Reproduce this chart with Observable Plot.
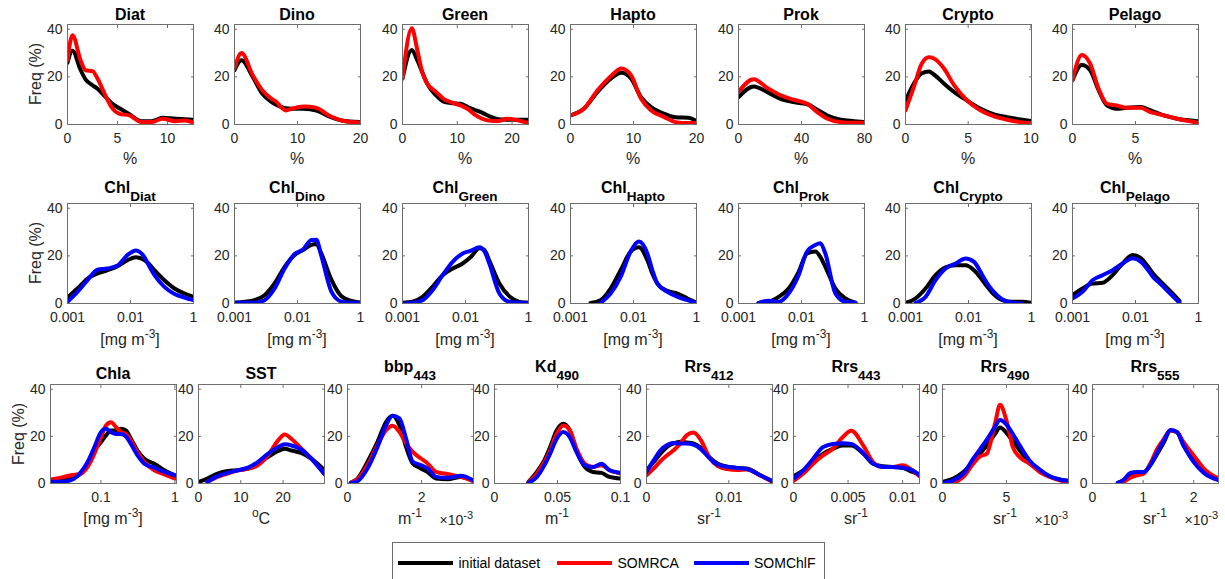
<!DOCTYPE html>
<html><head><meta charset="utf-8">
<script src="https://cdn.jsdelivr.net/npm/d3@7"></script>
<script src="https://cdn.jsdelivr.net/npm/@observablehq/plot@0.6"></script>
<style>
body{margin:0;background:#fff;font-family:"Liberation Sans",Arial,sans-serif;color:#262626}
#fig{position:relative;width:1225px;height:579px;overflow:hidden;background:#fff}
.t{position:absolute;white-space:nowrap;line-height:1;transform:translateX(-50%);font-weight:bold;font-size:16px;color:#000}
.t sub{font-size:13.5px;vertical-align:-7.7px;line-height:0}
.u{position:absolute;white-space:nowrap;line-height:1;transform:translateX(-50%);font-size:16px;color:#262626}
.u sup{font-size:12px;vertical-align:7px;line-height:0}
.e{position:absolute;white-space:nowrap;line-height:1;transform:translateX(-100%);font-size:14px;color:#262626}
.e sup{font-size:11px;vertical-align:6px;line-height:0}
.f{position:absolute;white-space:nowrap;line-height:1;transform:translate(-50%,-50%) rotate(-90deg);font-size:16px;color:#262626}
.lg{position:absolute;border:1px solid #6e6e6e;box-sizing:border-box;background:#fff}
.li{position:absolute;height:4px}
.lt{position:absolute;font-size:14px;line-height:1;color:#000;white-space:nowrap}
</style></head><body><div id="fig"></div><script>
// ---------- series ----------
const seriesNames = ["initial dataset", "SOMRCA", "SOMChlF"];
const seriesColors = ["#000000", "#ff0000", "#0000ff"];
const yTicks = [0, 20, 40];
const yMax = 42;

// ---------- row 1 : fractions (%) ----------
const diatX = [0,0.5,1.3,1.8,2.5,3,3.7,4.4,5.2,6.2,7.4,8.4,9.5,10.8,11.8,12.6];
const diatInit = [26,31,23,19,16.5,15,12,9,6.8,4.3,1.4,1.4,2.8,2.4,2.2,2];
const diatRCA = [27,37.5,27,22.8,22.4,19.3,13,7.3,4.5,3.8,1,1,2.4,1.4,1.7,0.7];

const dinoX = [0,1.1,2.9,4.4,5.9,6.7,7.5,8.2,9,11,13,15,17,20];
const dinoInit = [22.8,27,20,13,9.4,8.2,7.3,6.8,6.6,6.6,5.9,3.4,1.7,1];
const dinoRCA = [23.5,30,20.7,14.4,10.8,9.4,7,5.9,6.6,7.6,7,3.8,1.7,0.8];

const greenX = [0,1.7,2.7,3.6,4.5,6.1,7.5,8.8,10.6,12,13,14.5,16,17.5,19,20.5,22,23];
const greenInit = [19.3,31.3,27,22,17.2,12.3,9.6,9,8.7,7.2,6.3,5,3.3,2.2,2,2,2,2];
const greenRCA = [19.3,40.4,31.3,22,17.2,13.7,10.8,9.4,8,6.4,4.5,2.5,1.6,1.5,2.4,2,1.2,0.6];

const haptoX = [0,2.1,4.3,6.4,8.1,9.6,11.2,12.8,14.9,16.7,18.7,20];
const haptoInit = [3.8,6.6,13.7,19.3,21.7,19.3,11.5,7.3,4.5,3,2.8,1.4];
const haptoRCA = [3.8,6.6,14.4,20.3,23.5,20.7,10.8,5.9,3.1,1,0.6,0.6];

const prokX = [0,9.6,18,26.7,35,43.7,50,56.5,65,73.6,80];
const prokInit = [11.5,16,13.7,10.8,9.4,8.5,6.2,3.8,2,1.4,1];
const prokRCA = [13.7,19,15.5,12.3,10.4,8.7,5.2,2.4,1,0.7,0.7];

const cryptoX = [0,0.67,1.3,1.87,2.27,3.07,3.87,4.93,6,7.07,8.1,9.2,10.05];
const cryptoInit = [10,17.2,21.5,22.3,21,17.2,13.7,10,6.6,4.2,3.1,2.1,1.4];
const cryptoRCA = [5.9,15.8,25.6,28.2,27.7,23.5,16.5,10,5.9,3.4,2,1,0.6];

const pelagoX = [0,0.74,1.4,2.07,2.74,3.5,4.3,5.4,6.2,7.26,8.3,10];
const pelagoInit = [18.6,25,22.8,14.4,8,6.6,7,7.3,5.9,3.8,2.4,1.4];
const pelagoRCA = [18.6,29.2,25.6,15,8.7,8,7,7,5.2,3.8,2.4,0.7];

// ---------- row 2 : Chl per group [mg m-3] ----------
const chlX = [0.001,0.00144,0.00208,0.003,0.00433,0.00625,0.009,0.01224,0.0166,0.0199,0.0239,0.0345,0.0499,0.0719,0.1];
const chlDiatInit = [2.5,6.3,10.5,12.6,14,15.7,18.2,19.4,18.2,16.5,14,9.8,6.3,4.2,2.8];
const chlDiatChlF = [0.7,4.9,9.8,14.2,14.7,16,20.4,22.3,19.5,15.6,12,7,4,2.5,1.4];
const chlDinoInit = [0.3,0.7,1.4,3.5,8.4,15.4,20.4,22.5,24.6,25,21,10,3,1.1,0.4];
const chlDinoChlF = [0.3,0.3,0.3,1.4,6.3,14.7,20.8,22.7,26.7,26.8,20,5,0.8,0.3,0.3];
const chlGreenInit = [0.3,0.7,2.8,7,11.9,14.7,16.8,19.6,23.2,22.5,18,8.4,3,0.7,0.3];
const chlGreenChlF = [0,0.3,1.4,5.6,11.9,17.5,21,22.2,23.6,22,16.8,4.2,0.7,0.3,0.3];
const chlHaptoInit = [null,null,0.2,1.4,6.3,14,21.8,23.6,18.2,12.6,8.4,5.3,4.2,2.1,0.3];
const chlHaptoChlF = [null,null,null,0.3,4.2,11.2,21.8,26,21,14,8.4,4.9,2.8,1.4,0.3];
const chlProkInit = [null,null,0.2,0.7,2.8,6.3,13.3,21,21.8,19.6,15.4,6.3,2.1,0.3,null];
const chlProkChlF = [null,null,0.3,1.2,0.7,4.2,11.9,21.8,24.6,25.3,21,4.2,0.7,0.3,null];
const chlCryptoInit = [0.2,2.1,6.3,11.9,15.2,16.1,16.1,14,9.8,7,4.5,1.4,0.7,0.7,0.3];
const chlCryptoChlF = [null,0.2,2.8,9.8,14.7,16.8,18.9,17.5,11.9,8.4,5.6,1.7,0.3,0,null];
const chlPelagoInit = [3.5,6.3,8.4,8.7,11.9,16.8,20.4,19,14.7,11.9,9.8,5.6,1.1,null,null];
const chlPelagoChlF = [2.1,4.9,9.8,11.9,14,16.8,19,17.5,13.3,10.5,8.7,4.5,0.3,null,null];
const chlTickValues = [0.001, 0.01, 0.1];
const chlTickLabels = ["0.001", "0.01", "1"];

// ---------- row 3 : inputs ----------
const chlaX = [0.0211,0.0288,0.0393,0.0537,0.0661,0.0813,0.1,0.117,0.1365,0.1596,0.1862,0.2178,0.254,0.3126,0.385,0.526,0.718,1.0];
const chlaInit = [1.1,1.4,2.1,4.2,8.4,14,17.5,20.4,22.5,22.5,23.2,22.5,19,14,10.5,8.4,5.6,3.5];
const chlaRCA = [1.7,2.5,3.5,4.2,7,12.6,19.6,24.6,26,23.9,21.8,21,18.2,13.3,9.1,5.6,3.9,2.1];
const chlaChlF = [0.7,0.7,1.4,4.9,9.1,15.4,21.8,23.2,21.8,21,21,19.9,16.8,11.9,8.4,6.7,4.9,3.5];
const chlaTickValues = [0.1, 1];
const chlaTickLabels = ["0.1", "1"];

const sstX = [0,2.1,4.5,6.9,9.3,11.7,14,16.4,18.8,20.4,22,24.4,26.7,29.8];
const sstInit = [0.7,2.1,4.2,5.3,5.6,6.3,8.4,11.2,13.8,14.7,14,12.9,10.5,5.6];
const sstRCA = [null,0.7,2.8,4.2,5.6,6.3,7.7,11.9,18.2,20.8,18.9,14.7,10.5,4.2];
const sstChlF = [null,0.7,3.1,4.5,5.6,6.7,9.1,12.6,15.4,16.6,16.1,14.3,10.5,3.9];

const bbpX = [0.09,0.27,0.54,0.81,1.04,1.22,1.4,1.58,1.76,1.98,2.16,2.39,2.7,3.06,3.38];
const bbpInit = [0.4,2.1,9.2,17.7,26.1,28.7,24.7,15.5,8.5,6.4,4.9,2.1,1.8,2.8,1.4];
const bbpRCA = [0.4,1.8,7.8,16.3,22.6,24.5,21.9,17,13.4,10.6,8.5,4.9,4,2.8,1];
const bbpChlF = [0.2,1,6.4,15.5,24.7,28.7,27.6,19.1,9.2,7.8,6.4,2.8,2.4,3.3,1.4];

const kdX = [0.027,0.0336,0.0388,0.0441,0.0493,0.0546,0.0598,0.0651,0.0717,0.0782,0.0848,0.0913,0.1];
const kdInit = [0.7,4.9,9.1,15.4,22.5,25.3,22.5,14,7,4.9,4.5,2.8,2.1];
const kdRCA = [0.5,4.2,8.4,14,21,24.6,22.5,14.7,8.4,7,7.7,5.6,4.2];
const kdChlF = [0.3,2.8,7,12.6,18.9,21.8,19.6,13.3,7.7,7,8.4,5.6,4.5];

const rrs412X = [0,0.00089,0.0017,0.0025,0.0033,0.0041,0.0049,0.0057,0.0066,0.0076,0.0086,0.0098,0.011,0.0122,0.0138,0.0153];
const rrs412Init = [5.7,9.2,12.7,15.5,17,17.7,17.4,17,15.1,11.3,8.5,7.1,6.6,6.4,3.5,1];
const rrs412RCA = [3.5,6.4,9.5,12,14.1,17,20.5,21.6,18.4,11.3,7.5,6.1,5.7,5.9,3.5,0.7];
const rrs412ChlF = [4.9,9.9,14.1,16.3,17.2,17,17,16.5,14.6,10.9,8.1,7.1,6.6,6.1,3.5,1];

const rrs443X = [0,0.0009,0.0018,0.0027,0.0036,0.0045,0.0053,0.0064,0.0073,0.0082,0.0091,0.01,0.0109,0.01155];
const rrs443Init = [3.1,5.6,9.1,12.6,14.7,16.1,16.1,12.6,8.4,7.3,7,6.7,4.9,3.9];
const rrs443RCA = [1.1,4.2,8.4,11.9,14.7,19.6,22.4,16.1,9.1,7,7,7.7,5.6,3.1];
const rrs443ChlF = [2.1,5.6,10.5,15.4,16.8,17.1,16.8,12.9,8.4,7,7,6.7,5.6,3.5];

const rrs490X = [0,0.85,1.63,2.4,2.93,3.45,4.1,4.5,5,5.5,6.04,6.8,7.6,8.37,9.15,9.85];
const rrs490Init = [0.7,2.1,4.9,9.1,12.6,16,21,23.8,21.5,18,14,9.1,5.6,3.1,1.7,1.1];
const rrs490RCA = [null,0.3,2.8,8.4,11.5,12.6,25.3,33.4,26.7,15.4,11.2,8.4,4.9,2.8,1.4,0.7];
const rrs490ChlF = [0.3,1.4,4.2,10.5,14.5,18.5,24,26.9,25,21,16.1,9.8,5.9,3.1,1.7,1.1];

const rrs555X = [0.5,0.62,0.75,0.88,1.01,1.14,1.28,1.41,1.54,1.67,1.8,2,2.2,2.49];
const rrs555Init = [0.3,1.4,3.5,4.2,4.5,7.7,12.6,17.5,22.5,21.8,16.1,9.8,4.9,1.7];
const rrs555RCA = [null,0.7,2.5,3.5,4.2,8.4,14.7,18.9,22.5,21.8,17.5,11.9,6.3,2.1];
const rrs555ChlF = [0.3,1.7,4.5,4.9,4.9,7.7,13.3,18.2,22.7,21.8,16.1,9.1,4.5,1.4];

// ---------- panel definitions ----------
const row1 = [
  {title:"Diat", x:diatX, ys:[diatInit,diatRCA,null], domain:[0,12.6], ticks:[0,5,10], unit:"%"},
  {title:"Dino", x:dinoX, ys:[dinoInit,dinoRCA,null], domain:[0,20], ticks:[0,10,20], unit:"%"},
  {title:"Green", x:greenX, ys:[greenInit,greenRCA,null], domain:[0,23], ticks:[0,10,20], unit:"%"},
  {title:"Hapto", x:haptoX, ys:[haptoInit,haptoRCA,null], domain:[0,20], ticks:[0,10,20], unit:"%"},
  {title:"Prok", x:prokX, ys:[prokInit,prokRCA,null], domain:[0,80], ticks:[0,40,80], unit:"%"},
  {title:"Crypto", x:cryptoX, ys:[cryptoInit,cryptoRCA,null], domain:[0,10.05], ticks:[0,5,10], unit:"%"},
  {title:"Pelago", x:pelagoX, ys:[pelagoInit,pelagoRCA,null], domain:[0,10], ticks:[0,5], unit:"%"}
];
const mgUnit = "[mg m<sup>-3</sup>]";
const row2 = [
  {title:"Chl", sub:"Diat", ys:[chlDiatInit,null,chlDiatChlF]},
  {title:"Chl", sub:"Dino", ys:[chlDinoInit,null,chlDinoChlF]},
  {title:"Chl", sub:"Green", ys:[chlGreenInit,null,chlGreenChlF]},
  {title:"Chl", sub:"Hapto", ys:[chlHaptoInit,null,chlHaptoChlF]},
  {title:"Chl", sub:"Prok", ys:[chlProkInit,null,chlProkChlF]},
  {title:"Chl", sub:"Crypto", ys:[chlCryptoInit,null,chlCryptoChlF]},
  {title:"Chl", sub:"Pelago", ys:[chlPelagoInit,null,chlPelagoChlF]}
].map(p => ({...p, x:chlX, type:"log", domain:[0.001,0.1], ticks:chlTickValues, labels:chlTickLabels, unit:mgUnit}));
const row3 = [
  {title:"Chla", x:chlaX, ys:[chlaInit,chlaRCA,chlaChlF], type:"log", domain:[0.0208,1.05], ticks:chlaTickValues, labels:chlaTickLabels, unit:mgUnit},
  {title:"SST", x:sstX, ys:[sstInit,sstRCA,sstChlF], domain:[0,29.8], ticks:[0,10,20], unit:"<sup>o</sup>C"},
  {title:"bbp", sub:"443", x:bbpX, ys:[bbpInit,bbpRCA,bbpChlF], domain:[0,3.4], ticks:[0,2], unit:"m<sup>-1</sup>", exp:true},
  {title:"Kd", sub:"490", x:kdX, ys:[kdInit,kdRCA,kdChlF], domain:[0,0.1], ticks:[0,0.05,0.1], unit:"m<sup>-1</sup>"},
  {title:"Rrs", sub:"412", x:rrs412X, ys:[rrs412Init,rrs412RCA,rrs412ChlF], domain:[0,0.0153], ticks:[0,0.01], unit:"sr<sup>-1</sup>"},
  {title:"Rrs", sub:"443", x:rrs443X, ys:[rrs443Init,rrs443RCA,rrs443ChlF], domain:[0,0.01155], ticks:[0,0.005,0.01], unit:"sr<sup>-1</sup>"},
  {title:"Rrs", sub:"490", x:rrs490X, ys:[rrs490Init,rrs490RCA,rrs490ChlF], domain:[0,9.85], ticks:[0,5], unit:"sr<sup>-1</sup>", exp:true},
  {title:"Rrs", sub:"555", x:rrs555X, ys:[rrs555Init,rrs555RCA,rrs555ChlF], domain:[0,2.49], ticks:[0,1,2], unit:"sr<sup>-1</sup>", exp:true}
];

// ---------- layout ----------
const layout = [
  {panels:row1, lefts:[67,234,402,570,738,905,1072], top:24, h:100, titleBase:20.7, unitTop:151},
  {panels:row2, lefts:[67,234,402,570,738,905,1072], top:203, h:100, titleBase:193, unitTop:331.5},
  {panels:row3, lefts:[50,198,347,494,646,793,942,1092], top:384, h:99, titleBase:379.3, unitTop:510.5}
];
const ML = 30, MR = 6, MT = 6, MB = 28, BW = 126;
const fig = document.getElementById("fig");

function addDiv(cls, html, left, top) {
  const d = document.createElement("div");
  d.className = cls; d.innerHTML = html;
  d.style.left = left + "px"; d.style.top = top + "px";
  fig.appendChild(d);
  return d;
}

function addPanel(p, left, top, h) {
  const rows = [];
  p.ys.forEach((ys, k) => {
    if (!ys) return;
    ys.forEach((y, i) => { if (y != null) rows.push({x: p.x[i], y, s: seriesNames[k]}); });
  });
  const fmt = p.labels ? (d => p.labels[p.ticks.indexOf(d)]) : (d => String(d));
  const svg = Plot.plot({
    width: BW + ML + MR, height: h + MT + MB,
    marginLeft: ML, marginRight: MR, marginTop: MT, marginBottom: MB,
    style: {background: "transparent", fontFamily: "'Liberation Sans', Arial, sans-serif", fontSize: "14px", color: "#262626", overflow: "visible"},
    x: {type: p.type || "linear", domain: p.domain},
    y: {domain: [0, yMax]},
    color: {domain: seriesNames, range: seriesColors},
    marks: [
      Plot.line(rows, {x: "x", y: "y", z: "s", stroke: "s", strokeWidth: 4, curve: "monotone-x", clip: true}),
      Plot.frame({stroke: "#6e6e6e"}),
      Plot.axisX({ticks: p.ticks, tickFormat: fmt, tickSize: -3, tickPadding: 11.5, label: null, stroke: "#6e6e6e"}),
      Plot.axisX({anchor: "top", ticks: p.ticks, tickFormat: () => "", tickSize: -3, label: null, stroke: "#6e6e6e"}),
      Plot.axisY({ticks: yTicks, tickFormat: d => String(d), tickSize: -3, tickPadding: 8, label: null, stroke: "#6e6e6e"}),
      Plot.axisY({anchor: "right", ticks: yTicks, tickFormat: () => "", tickSize: -3, label: null, stroke: "#6e6e6e"})
    ]
  });
  svg.style.position = "absolute";
  svg.style.left = (left - ML) + "px";
  svg.style.top = (top - MT) + "px";
  fig.appendChild(svg);
}

layout.forEach((row, r) => {
  row.panels.forEach((p, i) => {
    const left = row.lefts[i];
    addPanel(p, left, row.top, row.h);
    const cx = left + BW / 2;
    const base = p.sub ? row.titleBase - (r === 2 ? 7.3 : 0) : row.titleBase;
    addDiv("t", p.title + (p.sub ? "<sub>" + p.sub + "</sub>" : ""), cx, base - 13.5);
    addDiv("u", p.unit, cx, row.unitTop);
    if (p.exp) addDiv("e", "&times;10<sup>-3</sup>", left + BW, row.unitTop + 2);
  });
  addDiv("f", "Freq (%)", row.lefts[0] - 31, row.top + row.h / 2);
});

// ---------- legend ----------
const lg = document.createElement("div");
lg.className = "lg";
lg.style.left = "392px"; lg.style.top = "542px"; lg.style.width = "433px"; lg.style.height = "60px";
fig.appendChild(lg);
const legendLineX = [398, 557, 694];
const legendTextX = [458.5, 617.5, 754];
seriesNames.forEach((name, k) => {
  const l = document.createElement("div");
  l.className = "li";
  l.style.left = legendLineX[k] + "px"; l.style.top = "561px"; l.style.width = "55px";
  l.style.background = seriesColors[k];
  fig.appendChild(l);
  addDiv("lt", name, legendTextX[k], 556);
});
</script></body></html>
